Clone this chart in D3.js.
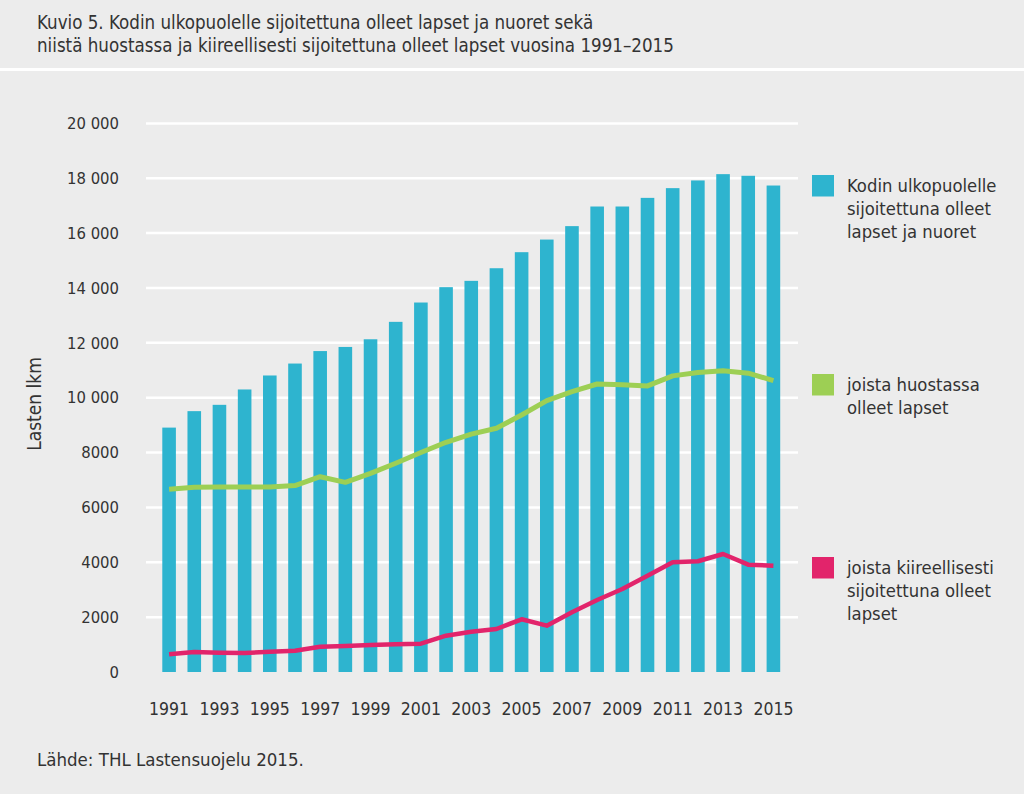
<!DOCTYPE html>
<html><head><meta charset="utf-8">
<script src="https://cdn.jsdelivr.net/npm/d3@7"></script>
<style>
html,body{margin:0;padding:0;background:#ececec;}
svg{display:block;}
</style></head>
<body>
<script>
const years = d3.range(1991, 2016);
const placed = [8910,9510,9740,10300,10810,11245,11700,11850,12130,12765,13470,14030,14260,14720,15305,15765,16255,16970,16970,17285,17640,17920,18150,18090,17735];
const custody = [6660,6735,6745,6745,6745,6795,7120,6915,7240,7610,8000,8375,8670,8885,9370,9895,10220,10500,10470,10430,10795,10915,10980,10895,10625];
const emergency = [645,730,705,693,740,777,923,948,985,1010,1032,1324,1470,1568,1922,1690,2177,2625,3027,3512,4000,4037,4303,3913,3876];
const yTicks = [0,2000,4000,6000,8000,10000,12000,14000,16000,18000,20000];
const yTickLabels = ["0","2000","4000","6000","8000","10 000","12 000","14 000","16 000","18 000","20 000"];
const xTickYears = [1991,1993,1995,1997,1999,2001,2003,2005,2007,2009,2011,2013,2015];
const titleLines = ["Kuvio 5. Kodin ulkopuolelle sijoitettuna olleet lapset ja nuoret sekä","niistä huostassa ja kiireellisesti sijoitettuna olleet lapset vuosina 1991–2015"];
const legendItems = [
  {lines:["Kodin ulkopuolelle","sijoitettuna olleet","lapset ja nuoret"], color:"#2eb4cf"},
  {lines:["joista huostassa","olleet lapset"], color:"#9dcf54"},
  {lines:["joista kiireellisesti","sijoitettuna olleet","lapset"], color:"#e2246b"}
];
const source = "Lähde: THL Lastensuojelu 2015.";
const yLabel = "Lasten lkm";

const W=1024,H=794;
const cond = "'DejaVu Sans Condensed','DejaVu Sans',sans-serif";
const txt = "#333";
const svg = d3.select("body").append("svg").attr("width",W).attr("height",H);
svg.append("rect").attr("width",W).attr("height",H).attr("fill","#ececec");

// title
svg.append("g").selectAll("text").data(titleLines).join("text")
  .attr("x",37).attr("y",(d,i)=>29+i*23)
  .attr("font-family",cond).attr("font-size",18.6).attr("fill",txt).text(d=>d);
svg.append("rect").attr("x",0).attr("y",68).attr("width",W).attr("height",3).attr("fill","#ffffff");

const y = d3.scaleLinear().domain([0,20000]).range([672,123.4]);
const x = d3.scaleBand().domain(years).range([156.5,786]).paddingInner(0.46).paddingOuter(0.23);

// gridlines
svg.append("g").selectAll("line").data(yTicks.slice(1)).join("line")
  .attr("x1",146).attr("x2",798).attr("y1",d=>y(d)).attr("y2",d=>y(d))
  .attr("stroke","#ffffff").attr("stroke-width",2.5);

// y axis labels
const yAxis = d3.axisLeft(y).tickValues(yTicks).tickFormat((d,i)=>yTickLabels[i]).tickSize(0).tickPadding(0);
const ya = svg.append("g").attr("transform","translate(119,0)").call(yAxis);
ya.select(".domain").remove();
ya.selectAll("text").attr("font-family",cond).attr("font-size",16.5).attr("fill",txt);

// x axis
const xAxis = d3.axisBottom(x).tickValues(xTickYears).tickSize(0).tickPadding(0);
const xa = svg.append("g").attr("transform","translate(0,703)").call(xAxis);
xa.select(".domain").remove();
xa.selectAll("text").attr("font-family",cond).attr("font-size",17.5).attr("fill",txt);

// y label
svg.append("text").attr("transform","translate(41,404) rotate(-90)").attr("text-anchor","middle")
  .attr("font-family",cond).attr("font-size",19).attr("fill",txt).text(yLabel);

// bars
svg.append("g").selectAll("rect").data(years).join("rect")
  .attr("x",d=>x(d)).attr("width",x.bandwidth())
  .attr("y",(d,i)=>y(placed[i])).attr("height",(d,i)=>y(0)-y(placed[i]))
  .attr("fill",legendItems[0].color);

const cx = d=>x(d)+x.bandwidth()/2;
const line = d3.line().x(d=>cx(d[0])).y(d=>y(d[1]));
svg.append("path").datum(years.map((yr,i)=>[yr,custody[i]])).attr("d",line)
  .attr("fill","none").attr("stroke",legendItems[1].color).attr("stroke-width",5).attr("stroke-linejoin","round");
svg.append("path").datum(years.map((yr,i)=>[yr,emergency[i]])).attr("d",line)
  .attr("fill","none").attr("stroke",legendItems[2].color).attr("stroke-width",4.5).attr("stroke-linejoin","round");

// legend
const legTops=[175,374,557];
legendItems.forEach((it,k)=>{
  const g=svg.append("g");
  g.append("rect").attr("x",812).attr("y",legTops[k]).attr("width",22).attr("height",21.5).attr("fill",it.color);
  g.selectAll("text").data(it.lines).join("text")
    .attr("x",847).attr("y",(d,i)=>legTops[k]+17+i*23)
    .attr("font-family",cond).attr("font-size",18.3).attr("fill",txt).text(d=>d);
});

// source
svg.append("text").attr("x",37).attr("y",766).attr("font-family",cond).attr("font-size",18.5).attr("fill",txt).text(source);
</script>
</body></html>
